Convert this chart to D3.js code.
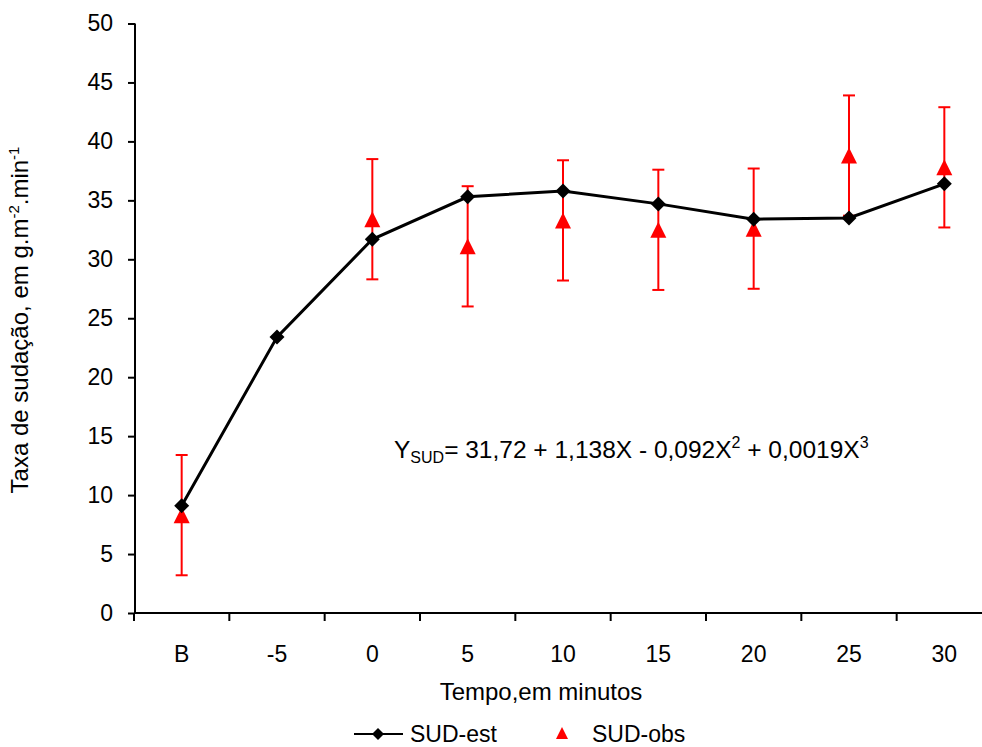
<!DOCTYPE html>
<html>
<head>
<meta charset="utf-8">
<script src="https://cdn.jsdelivr.net/npm/d3@7/dist/d3.min.js"></script>
<style>
  body { margin: 0; background: #fff; }
  svg { font-family: "Liberation Sans", Arial, sans-serif; }
  .axis path, .axis line { stroke: #000; stroke-width: 2; }
  .axis text { font-size: 23px; fill: #000; }
</style>
</head>
<body>
<script>
// categories on the x axis (B = baseline)
const categories = ["B", "-5", "0", "5", "10", "15", "20", "25", "30"];
// estimated sweat rate (cubic fit)
const estValues = [9.1, 23.4, 31.7, 35.3, 35.8, 34.7, 33.4, 33.5, 36.4];
// observed sweat rate and its standard deviation
const obsCats = ["B", "0", "5", "10", "15", "20", "25", "30"];
const obsValues = [8.3, 33.4, 31.1, 33.3, 32.5, 32.6, 38.8, 37.8];
const obsErr = [5.1, 5.1, 5.1, 5.1, 5.1, 5.1, 5.1, 5.1];
const yTicks = [0, 5, 10, 15, 20, 25, 30, 35, 40, 45, 50];

const width = 982, height = 747;
const margin = {left: 135, top: 23.5, bottom: 134};

const svg = d3.select("body").append("svg")
  .attr("width", width)
  .attr("height", height);

// the plot runs past the right edge of the picture, like the original
let x = d3.scaleBand()
  .domain(categories)
  .range([134, 992]);

let y = d3.scaleLinear()
  .domain([0, 50])
  .range([height - margin.bottom, margin.top]);

// y axis
svg.append("g")
  .attr("class", "axis")
  .attr("transform", `translate(${margin.left},0)`)
  .call(d3.axisLeft(y).tickValues(yTicks).tickSize(7).tickPadding(15).tickSizeOuter(0))
  .call(g => g.select(".domain").attr("d", `M0,${y(0)}V${y(50)}`));

// x axis: labels at band centres, tick marks at band edges
let xAxis = svg.append("g")
  .attr("class", "axis")
  .attr("transform", `translate(0,${y(0)})`)
  .call(d3.axisBottom(x).tickSize(0).tickPadding(33).tickSizeOuter(0));
xAxis.select(".domain").attr("d", `M${margin.left},0H${width}`);

xAxis.selectAll(".edge")
  .data(categories)
  .join("line")
  .attr("class", "edge")
  .attr("x1", d => x(d))
  .attr("x2", d => x(d))
  .attr("y1", 0)
  .attr("y2", 8);

// axis titles
svg.append("text")
  .attr("x", 541)
  .attr("y", 700)
  .attr("text-anchor", "middle")
  .style("font-size", "24px")
  .text("Tempo,em minutos");

let yTitle = svg.append("text")
  .attr("transform", "translate(28,320) rotate(-90)")
  .attr("text-anchor", "middle")
  .style("font-size", "24px");
yTitle.append("tspan").text("Taxa de sudação, em g.m");
yTitle.append("tspan").attr("dy", -9).style("font-size", "15px").text("-2");
yTitle.append("tspan").attr("dy", 9).text(".min");
yTitle.append("tspan").attr("dy", -9).style("font-size", "15px").text("-1");

// error bars for observed values
svg.selectAll(".err")
  .data(obsCats.map((c, i) => ({c: c, v: obsValues[i], e: obsErr[i]})))
  .join(enter => {
    let g = enter.append("g").classed("err", true)
      .attr("stroke", "#ff0000")
      .attr("stroke-width", 2);
    let cx = d => x(d.c) + x.bandwidth() / 2;
    g.append("line")
      .attr("x1", cx).attr("x2", cx)
      .attr("y1", d => y(d.v - d.e))
      .attr("y2", d => y(d.v + d.e));
    g.append("line")
      .attr("x1", d => cx(d) - 6).attr("x2", d => cx(d) + 6)
      .attr("y1", d => y(d.v + d.e))
      .attr("y2", d => y(d.v + d.e));
    g.append("line")
      .attr("x1", d => cx(d) - 6).attr("x2", d => cx(d) + 6)
      .attr("y1", d => y(d.v - d.e))
      .attr("y2", d => y(d.v - d.e));
    return g;
  });

// observed triangles
let tri = "M0,-8L8,8L-8,8Z";
svg.selectAll(".obs")
  .data(obsCats.map((c, i) => ({c: c, v: obsValues[i]})))
  .join("path")
  .attr("class", "obs")
  .attr("d", tri)
  .attr("fill", "#ff0000")
  .attr("transform", d => `translate(${x(d.c) + x.bandwidth() / 2},${y(d.v)})`);

// estimated line with diamonds
let est = categories.map((c, i) => ({c: c, v: estValues[i]}));
svg.append("path")
  .datum(est)
  .attr("fill", "none")
  .attr("stroke", "#000")
  .attr("stroke-width", 3)
  .attr("d", d3.line().x(d => x(d.c) + x.bandwidth() / 2).y(d => y(d.v)));

let diamond = "M0,-7.5L7.5,0L0,7.5L-7.5,0Z";
svg.selectAll(".est")
  .data(est)
  .join("path")
  .attr("class", "est")
  .attr("d", diamond)
  .attr("fill", "#000")
  .attr("transform", d => `translate(${x(d.c) + x.bandwidth() / 2},${y(d.v)})`);

// regression equation
let eq = svg.append("text")
  .attr("x", 394)
  .attr("y", 458)
  .style("font-size", "24.5px");
eq.append("tspan").text("Y");
eq.append("tspan").attr("dy", 5).style("font-size", "16px").text("SUD");
eq.append("tspan").attr("dy", -5).text("= 31,72 + 1,138X - 0,092X");
eq.append("tspan").attr("dy", -10).style("font-size", "16px").text("2");
eq.append("tspan").attr("dy", 10).text(" + 0,0019X");
eq.append("tspan").attr("dy", -10).style("font-size", "16px").text("3");

// legend
let legend = svg.append("g").attr("transform", "translate(0,734)");
legend.append("line")
  .attr("x1", 354).attr("x2", 403)
  .attr("stroke", "#000").attr("stroke-width", 2);
legend.append("path")
  .attr("d", "M0,-6L6,0L0,6L-6,0Z")
  .attr("transform", "translate(378,0)");
legend.append("text")
  .attr("x", 410).attr("y", 8)
  .style("font-size", "23px")
  .text("SUD-est");
legend.append("path")
  .attr("d", "M0,-6L6,6L-6,6Z")
  .attr("fill", "#ff0000")
  .attr("transform", "translate(562,-1)");
legend.append("text")
  .attr("x", 592).attr("y", 8)
  .style("font-size", "23px")
  .text("SUD-obs");
</script>
</body>
</html>
